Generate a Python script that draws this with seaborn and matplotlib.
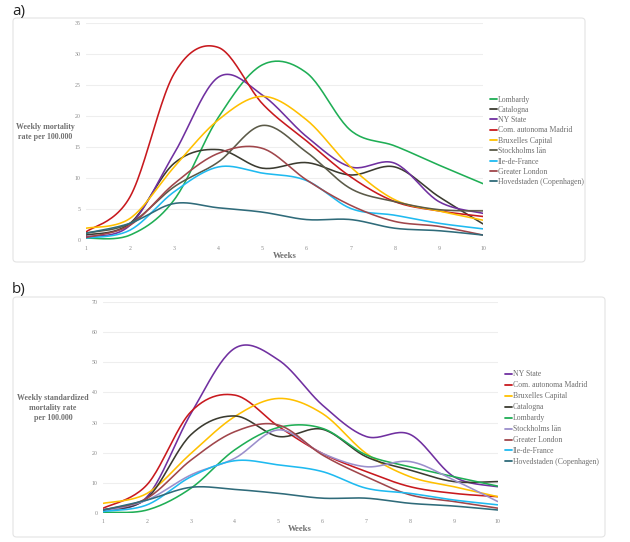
import numpy as np
import pandas as pd
import matplotlib
matplotlib.use("Agg")
import matplotlib.pyplot as plt
import seaborn as sns
from matplotlib.patches import FancyBboxPatch

weeks = [1, 2, 3, 4, 5, 6, 7, 8, 9, 10]

# ---- panel a: weekly mortality rate per 100.000 ----
a_regions = ["Lombardy", "Catalogna", "NY State", "Com. autonoma Madrid",
             "Bruxelles Capital", "Stockholms län", "Ile-de-France",
             "Greater London", "Hovedstaden (Copenhagen)"]
a_lombardy = [0.3, 0.8, 6.5, 19.8, 28.3, 27.0, 17.7, 15.2, 12.1, 9.1]
a_catalogna = [0.8, 2.7, 12.4, 14.6, 11.6, 12.5, 10.5, 11.8, 7.0, 2.6]
a_nystate = [0.5, 2.4, 14.0, 26.3, 23.4, 16.7, 11.8, 12.4, 6.2, 4.3]
a_madrid = [1.3, 7.0, 26.9, 31.1, 22.0, 16.0, 10.2, 6.2, 4.7, 3.8]
a_bruxelles = [1.9, 3.5, 11.8, 19.4, 23.2, 19.4, 11.8, 6.5, 4.7, 3.2]
a_stockholm = [1.1, 2.7, 8.6, 12.6, 18.5, 14.2, 8.3, 6.2, 4.9, 4.7]
a_idf = [0.3, 1.6, 7.8, 11.8, 10.8, 9.6, 5.1, 4.0, 2.7, 1.8]
a_london = [0.4, 2.4, 9.1, 14.0, 14.8, 9.7, 5.6, 3.0, 2.2, 0.8]
a_hoved = [1.1, 2.7, 5.9, 5.2, 4.5, 3.3, 3.3, 1.9, 1.5, 0.8]
a_values = [a_lombardy, a_catalogna, a_nystate, a_madrid, a_bruxelles,
            a_stockholm, a_idf, a_london, a_hoved]
a_colors = ["#1fae55", "#3b3b30", "#7030a0", "#c8191e", "#ffc000",
            "#5b5a48", "#1fbaf0", "#a0464b", "#2f6b7a"]

# ---- panel b: weekly standardized mortality rate per 100.000 ----
b_regions = ["NY State", "Com. autonoma Madrid", "Bruxelles Capital",
             "Catalogna", "Lombardy", "Stockholms län", "Greater London",
             "Ile-de-France", "Hovedstaden (Copenhagen)"]
b_nystate = [1.1, 5.5, 33.0, 54.6, 50.7, 35.8, 25.4, 26.1, 12.1, 8.8]
b_madrid = [1.7, 9.5, 33.6, 39.1, 28.7, 19.8, 13.8, 8.8, 6.6, 5.5]
b_bruxelles = [3.3, 6.6, 19.8, 32.0, 38.0, 33.0, 19.8, 12.1, 8.8, 5.5]
b_catalogna = [1.1, 5.0, 26.0, 32.2, 25.4, 27.8, 18.7, 14.3, 10.5, 10.5]
b_lombardy = [0.3, 1.1, 8.3, 21.0, 28.4, 28.1, 19.3, 15.4, 12.1, 9.0]
b_stockholm = [0.6, 4.4, 12.7, 18.2, 27.6, 19.8, 15.4, 17.1, 11.0, 3.9]
b_london = [1.1, 5.0, 17.6, 27.0, 29.2, 19.3, 12.1, 6.1, 3.9, 1.7]
b_idf = [0.6, 2.8, 12.1, 17.4, 16.0, 13.8, 8.3, 6.6, 4.4, 2.8]
b_hoved = [1.1, 4.4, 8.6, 7.9, 6.6, 5.0, 5.0, 3.3, 2.4, 1.1]
b_values = [b_nystate, b_madrid, b_bruxelles, b_catalogna, b_lombardy,
            b_stockholm, b_london, b_idf, b_hoved]
b_colors = ["#7030a0", "#c8191e", "#ffc000", "#3b3b30", "#1fae55",
            "#9b8fcc", "#a0464b", "#1fbaf0", "#2f6b7a"]

a_yticks = [0, 5, 10, 15, 20, 25, 30, 35]
b_yticks = [0, 10, 20, 30, 40, 50, 60, 70]


def smooth_curve(xs, ys, n=24):
    """Excel-style smoothed line (cubic Bezier through the data points)."""
    x = np.asarray(xs, float)
    y = np.asarray(ys, float)
    P = np.column_stack([x, y])
    m = len(P)
    t = np.linspace(0, 1, n, endpoint=False)[:, None]
    segs = []
    for i in range(m - 1):
        p0, p3 = P[i], P[i + 1]
        pm = P[i - 1] if i > 0 else P[i]
        pn = P[i + 2] if i + 2 < m else P[i + 1]
        c1 = p0 + (p3 - pm) / 6.0
        c2 = p3 - (pn - p0) / 6.0
        seg = ((1 - t) ** 3) * p0 + 3 * ((1 - t) ** 2) * t * c1 \
            + 3 * (1 - t) * t ** 2 * c2 + t ** 3 * p3
        segs.append(seg)
    segs.append(P[-1][None, :])
    out = np.vstack(segs)
    return out[:, 0], out[:, 1]


def make_frame(regions, values):
    rows = []
    for reg, vals in zip(regions, values):
        sx, sy = smooth_curve(weeks, vals)
        rows.append(pd.DataFrame({"week": sx, "value": sy, "region": reg}))
    return pd.concat(rows, ignore_index=True)


sns.set_style("white")
plt.rcParams["font.family"] = ["Liberation Serif", "DejaVu Serif"]

W, H = 630, 542
fig = plt.figure(figsize=(W / 100, H / 100), dpi=100)


def fx(px):
    return px / W


def fy(py):
    return 1 - py / H


label_col = "#6f6f6f"
tick_col = "#8a8a8a"

# panel boxes
for (x0, y0, x1, y1) in [(13, 18, 585, 262), (13, 297, 605, 537)]:
    box = FancyBboxPatch((fx(x0), fy(y1)), fx(x1) - fx(x0), fy(y0) - fy(y1),
                         boxstyle="round,pad=0,rounding_size=0.006",
                         transform=fig.transFigure, facecolor="none",
                         edgecolor="#e4e4e4", linewidth=0.8, zorder=-5)
    fig.patches.append(box)


def draw_panel(rect, regions, values, colors, yticks, ylabel, ylabel_xy,
               xlabel_xy, legend_xy, legend_spacing):
    ax = fig.add_axes(rect)
    ax.set_facecolor("none")
    ax.set_zorder(2)
    df = make_frame(regions, values)
    sns.lineplot(data=df, x="week", y="value", hue="region",
                 hue_order=regions, palette=colors, estimator=None,
                 sort=False, linewidth=1.15, ax=ax)
    ax.set_xlim(1, 10)
    ax.set_ylim(yticks[0], yticks[-1])
    ax.set_xticks(weeks)
    ax.set_yticks(yticks)
    ax.set_xlabel("")
    ax.set_ylabel("")
    for s in ax.spines.values():
        s.set_visible(False)
    ax.yaxis.grid(True, color="#eeeeee", linewidth=0.8)
    ax.xaxis.grid(False)
    ax.set_axisbelow(True)
    ax.tick_params(length=0, labelsize=4.2, labelcolor=tick_col, pad=4)
    handles, labels = ax.get_legend_handles_labels()
    if ax.get_legend() is not None:
        ax.get_legend().remove()
    for h in handles:
        h.set_linewidth(1.3)
    fig.legend(handles, labels, loc="upper left",
               bbox_to_anchor=(fx(legend_xy[0]), fy(legend_xy[1])),
               frameon=False, fontsize=5.6, handlelength=0.85,
               handletextpad=0.15, labelspacing=legend_spacing,
               borderpad=0, borderaxespad=0, labelcolor=label_col)
    fig.text(fx(ylabel_xy[0]), fy(ylabel_xy[1]), ylabel, ha="center",
             va="center", fontsize=5.7, fontweight="bold", color=label_col,
             linespacing=1.35)
    fig.text(fx(xlabel_xy[0]), fy(xlabel_xy[1]), "Weeks", ha="center",
             va="center", fontsize=6.2, fontweight="bold", color=label_col)
    return ax


rect_a = [fx(86), fy(240), fx(483) - fx(86), fy(23.3) - fy(240)]
draw_panel(rect_a, a_regions, a_values, a_colors, a_yticks,
           "Weekly mortality\nrate per 100.000", (45, 132), (285, 256),
           (490, 95.5), 0.3)

rect_b = [fx(103.3), fy(513.3), fx(497.7) - fx(103.3), fy(301.7) - fy(513.3)]
draw_panel(rect_b, b_regions, b_values, b_colors, b_yticks,
           "Weekly standardized\nmortality rate\nper 100.000", (53, 408),
           (300, 529), (505, 370.5), 0.38)

fig.text(fx(12), fy(12), "a)", ha="left", va="center", fontsize=11,
         family=["Open Sans", "DejaVu Sans"], color="#222222")
fig.text(fx(12), fy(290), "b)", ha="left", va="center", fontsize=11,
         family=["Open Sans", "DejaVu Sans"], color="#222222")

fig.savefig("out.png", dpi=100)
